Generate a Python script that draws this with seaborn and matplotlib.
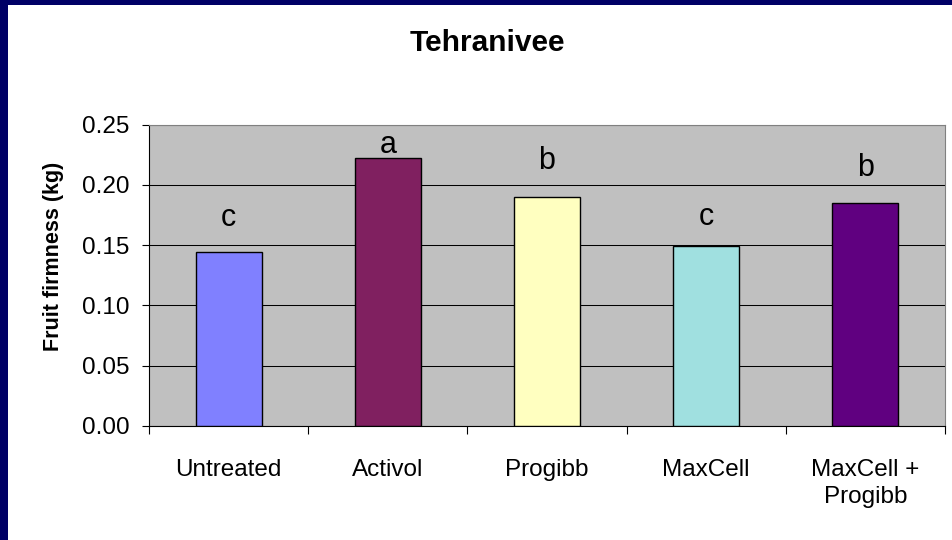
import matplotlib
matplotlib.use('Agg')
import matplotlib.pyplot as plt
import matplotlib.patches as mpatches
from matplotlib.ticker import FormatStrFormatter, FixedLocator
import seaborn as sns
import pandas as pd

# dados
tratamentos = ['Untreated', 'Activol', 'Progibb', 'MaxCell', 'MaxCell +\nProgibb']
firmeza = [0.144, 0.222, 0.190, 0.149, 0.185]
letras = ['c', 'a', 'b', 'c', 'b']
pos_letras = [0.166, 0.226, 0.213, 0.167, 0.207]
cores = ['#8080FF', '#802060', '#FFFFC0', '#A0E0E0', '#600080']
y_ticks = [0.00, 0.05, 0.10, 0.15, 0.20, 0.25]

df = pd.DataFrame({'Tratamento': tratamentos, 'Firmeza': firmeza})

plt.rcParams['font.family'] = ['Liberation Sans', 'DejaVu Sans']

fig = plt.figure(figsize=(9.52, 5.4), dpi=100)
fig.patch.set_facecolor('white')
ax = fig.add_axes([149/952, 1 - 426/540, (945 - 149)/952, (426 - 124.5)/540])
ax.set_facecolor('#C0C0C0')

sns.barplot(data=df, x='Tratamento', y='Firmeza', hue='Tratamento', palette=cores,
            saturation=1, legend=False, width=0.415, edgecolor='black', linewidth=1.0,
            ax=ax, zorder=3)

# letras de significancia
for i, (l, p) in enumerate(zip(letras, pos_letras)):
    ax.text(i, p, l, ha='center', va='baseline', fontsize=22, zorder=4, clip_on=False)

ax.set_ylim(0, 0.25)
ax.set_xlim(-0.5, 4.5)
ax.yaxis.set_major_locator(FixedLocator(y_ticks))
ax.yaxis.set_major_formatter(FormatStrFormatter('%.2f'))
ax.grid(axis='y', color='black', linewidth=0.75, zorder=1)
ax.set_axisbelow(True)

# ticks do eixo x nos limites das categorias
ax.set_xticks(range(len(tratamentos)))
ax.set_xticklabels(tratamentos, fontsize=17.5, linespacing=1.25)
ax.set_xticks([i - 0.5 for i in range(len(tratamentos) + 1)], minor=True)
ax.tick_params(axis='x', which='major', length=0, pad=24)
ax.tick_params(axis='x', which='minor', length=6, width=0.8, color='black')
ax.tick_params(axis='y', length=5, width=0.8, pad=9, labelsize=17.5)

for s in ['left', 'bottom']:
    ax.spines[s].set_color('black')
    ax.spines[s].set_linewidth(0.8)
for s in ['top', 'right']:
    ax.spines[s].set_color('#808080')
    ax.spines[s].set_linewidth(0.8)

ax.set_xlabel('')
ax.set_ylabel('')
fig.text(54/952, 1 - 256/540, 'Fruit firmness (kg)', rotation=90, ha='center', va='center',
         fontsize=15.5, fontweight='bold')
fig.text(487/952, 1 - 43/540, 'Tehranivee', ha='center', va='center',
         fontsize=21.5, fontweight='bold')

# moldura azul escura
fig.patches.append(mpatches.Rectangle((0, 0), 8/952, 1, transform=fig.transFigure,
                                      facecolor='#000066', edgecolor='none'))
fig.patches.append(mpatches.Rectangle((0, 1 - 4.5/540), 1, 4.5/540, transform=fig.transFigure,
                                      facecolor='#000066', edgecolor='none'))

fig.savefig('out.png', dpi=100)
